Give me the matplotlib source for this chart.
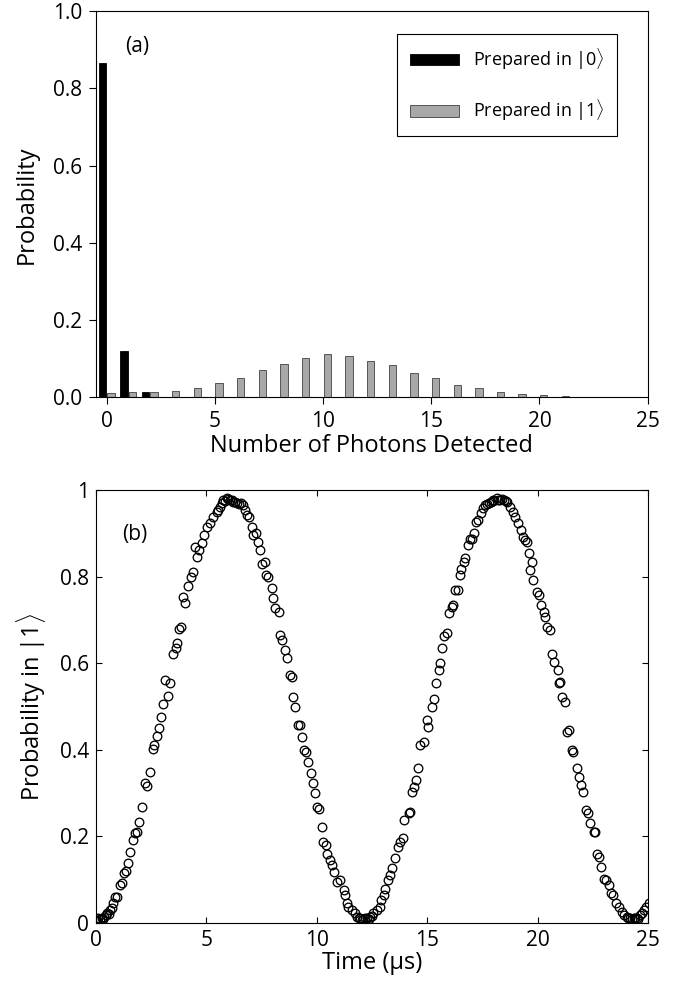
# %%

import matplotlib
matplotlib.use('Agg')
import matplotlib.pyplot as plt
import numpy as np

# %%

plt.rcParams['font.family'] = ['Open Sans', 'DejaVu Sans']
plt.rcParams['mathtext.fontset'] = 'custom'
plt.rcParams['mathtext.rm'] = 'Open Sans'
plt.rcParams['mathtext.it'] = 'Open Sans'

# (a) photon count histograms
photons = np.arange(0, 26)
prob_0 = [0.865, 0.120, 0.014, 0, 0, 0, 0, 0, 0, 0, 0, 0, 0,
          0, 0, 0, 0, 0, 0, 0, 0, 0, 0, 0, 0, 0]
prob_1 = [0.010, 0.013, 0.013, 0.016, 0.024, 0.036, 0.050, 0.072, 0.086,
          0.101, 0.111, 0.106, 0.094, 0.083, 0.062, 0.049, 0.031, 0.024,
          0.014, 0.009, 0.006, 0.003, 0, 0, 0, 0]

# (b) Rabi flopping
time_us = [0.00, 0.08, 0.10, 0.20, 0.29, 0.35, 0.38, 0.47, 0.53, 0.60, 0.65, 0.74, 0.80,
           0.89, 0.95, 1.10, 1.19, 1.28, 1.37, 1.48, 1.55, 1.67, 1.76, 1.89, 1.98,
           2.08, 2.23, 2.34, 2.46, 2.58, 2.65, 2.76, 2.87, 2.97, 3.06, 3.14, 3.26,
           3.36, 3.48, 3.62, 3.67, 3.77, 3.85, 3.94, 4.06, 4.16, 4.30, 4.39, 4.49,
           4.60, 4.69, 4.80, 4.90, 5.05, 5.17, 5.32, 5.48, 5.55, 5.63, 5.70, 5.78,
           5.85, 5.93, 6.00, 6.08, 6.15, 6.23, 6.30, 6.41, 6.50, 6.56, 6.65, 6.76,
           6.83, 6.95, 7.06, 7.13, 7.25, 7.32, 7.41, 7.51, 7.66, 7.71, 7.81, 7.96,
           8.04, 8.11, 8.27, 8.34, 8.42, 8.57, 8.64, 8.79, 8.87, 8.94, 9.02, 9.17,
           9.25, 9.32, 9.43, 9.52, 9.62, 9.74, 9.85, 9.92, 10.03, 10.12, 10.23,
           10.30, 10.42, 10.48, 10.60, 10.68, 10.80, 10.91, 11.06, 11.21, 11.28,
           11.36, 11.43, 11.58, 11.73, 11.81, 11.90, 11.96, 12.05, 12.11, 12.20,
           12.26, 12.35, 12.41, 12.50, 12.56, 12.71, 12.84, 12.90, 13.02, 13.09,
           13.24, 13.32, 13.39, 13.54, 13.69, 13.77, 13.89, 13.95, 14.15, 14.22,
           14.30, 14.41, 14.50, 14.56, 14.68, 14.83, 14.98, 15.05, 15.20, 15.28,
           15.40, 15.51, 15.58, 15.66, 15.76, 15.88, 15.96, 16.11, 16.15, 16.26,
           16.37, 16.46, 16.53, 16.64, 16.71, 16.82, 16.92, 17.01, 17.09, 17.21,
           17.31, 17.42, 17.54, 17.62, 17.70, 17.77, 17.87, 17.95, 17.99, 18.14,
           18.20, 18.30, 18.40, 18.45, 18.55, 18.60, 18.75, 18.87, 18.97, 19.12,
           19.23, 19.32, 19.43, 19.50, 19.58, 19.65, 19.73, 19.80, 19.95, 20.03,
           20.14, 20.26, 20.33, 20.41, 20.56, 20.63, 20.74, 20.89, 20.94, 21.01,
           21.09, 21.24, 21.34, 21.43, 21.54, 21.61, 21.76, 21.84, 21.94, 22.06,
           22.19, 22.29, 22.37, 22.52, 22.59, 22.67, 22.75, 22.85, 22.97, 23.09,
           23.20, 23.30, 23.42, 23.54, 23.65, 23.80, 23.88, 24.03, 24.10, 24.18,
           24.25, 24.33, 24.40, 24.48, 24.55, 24.63, 24.71, 24.78, 24.90, 25.01]
prob_in_1 = [0.005, 0.006, 0.010, 0.009, 0.012, 0.008, 0.014, 0.018, 0.023, 0.020, 0.029, 0.033, 0.045,
             0.059, 0.060, 0.087, 0.091, 0.114, 0.120, 0.137, 0.164, 0.191, 0.208, 0.210, 0.233,
             0.268, 0.322, 0.316, 0.349, 0.401, 0.411, 0.431, 0.451, 0.476, 0.505, 0.562, 0.524,
             0.555, 0.622, 0.634, 0.646, 0.679, 0.684, 0.753, 0.740, 0.778, 0.800, 0.811, 0.869,
             0.846, 0.861, 0.877, 0.896, 0.915, 0.923, 0.938, 0.950, 0.955, 0.961, 0.970, 0.977,
             0.975, 0.981, 0.980, 0.977, 0.978, 0.973, 0.972, 0.969, 0.968, 0.971, 0.965, 0.954,
             0.942, 0.938, 0.915, 0.896, 0.900, 0.881, 0.861, 0.830, 0.834, 0.804, 0.800, 0.773,
             0.750, 0.727, 0.719, 0.665, 0.653, 0.630, 0.611, 0.572, 0.569, 0.522, 0.499, 0.457,
             0.457, 0.430, 0.399, 0.395, 0.372, 0.345, 0.322, 0.299, 0.268, 0.264, 0.222,
             0.187, 0.180, 0.160, 0.145, 0.133, 0.118, 0.095, 0.099, 0.075, 0.064,
             0.045, 0.037, 0.029, 0.022, 0.014, 0.012, 0.010, 0.007, 0.008, 0.010,
             0.012, 0.008, 0.014, 0.015, 0.022, 0.029, 0.037, 0.052, 0.064, 0.079,
             0.099, 0.110, 0.126, 0.149, 0.176, 0.187, 0.195, 0.237, 0.253, 0.257,
             0.303, 0.314, 0.330, 0.357, 0.411, 0.418, 0.468, 0.453, 0.499, 0.518,
             0.553, 0.584, 0.601, 0.634, 0.663, 0.669, 0.715, 0.730, 0.734, 0.769,
             0.769, 0.804, 0.817, 0.834, 0.842, 0.873, 0.888, 0.888, 0.900, 0.927,
             0.931, 0.946, 0.958, 0.965, 0.968, 0.969, 0.973, 0.975, 0.977, 0.981,
             0.978, 0.978, 0.980, 0.977, 0.975, 0.973, 0.961, 0.950, 0.938, 0.923,
             0.908, 0.891, 0.884, 0.881, 0.854, 0.815, 0.834, 0.792, 0.765, 0.757,
             0.734, 0.719, 0.707, 0.684, 0.676, 0.622, 0.603, 0.584, 0.553, 0.557,
             0.522, 0.511, 0.441, 0.445, 0.399, 0.395, 0.357, 0.337, 0.318, 0.303,
             0.260, 0.253, 0.230, 0.210, 0.210, 0.160, 0.153, 0.129, 0.102, 0.099,
             0.087, 0.068, 0.064, 0.045, 0.037, 0.025, 0.018, 0.014, 0.010, 0.012,
             0.008, 0.011, 0.012, 0.010, 0.009, 0.018, 0.022, 0.029, 0.037, 0.046]

# %%

fig = plt.figure(figsize=(6.74, 9.85), dpi=100)

# --- (a) ---
ax1 = fig.add_axes([0.142, 0.5966, 0.819, 0.392])
bar_w = 0.34
ax1.bar(photons - 0.2, prob_0, width=bar_w, color='black', edgecolor='black',
        linewidth=0.6, label=r'Prepared in |0$\rangle$')
ax1.bar(photons + 0.2, prob_1, width=bar_w, color='#a8a8a8', edgecolor='#404040',
        linewidth=0.6, label=r'Prepared in |1$\rangle$')
ax1.set_xlim(-0.5, 25)
ax1.set_ylim(0, 1)
ax1.set_xticks([0, 5, 10, 15, 20, 25])
ax1.set_yticks([0, 0.2, 0.4, 0.6, 0.8, 1.0])
ax1.set_yticklabels(['0.0', '0.2', '0.4', '0.6', '0.8', '1.0'])
ax1.tick_params(direction='out', length=5, width=0.8, labelsize=15, pad=5,
                top=False, right=False)
ax1.set_xlabel('Number of Photons Detected', fontsize=17, labelpad=1)
ax1.set_ylabel('Probability', fontsize=17, labelpad=10)
ax1.text(0.85, 0.895, '(a)', fontsize=15)
for s in ax1.spines.values():
    s.set_linewidth(0.8)
leg = ax1.legend(loc='upper right', bbox_to_anchor=(0.945, 0.942), fontsize=13,
                 handlelength=2.7, handleheight=0.6, labelspacing=1.45,
                 borderpad=0.7, handletextpad=0.8, fancybox=False,
                 framealpha=1, edgecolor='black', borderaxespad=0)
leg.get_frame().set_linewidth(0.8)

# --- (b) ---
ax2 = fig.add_axes([0.142, 0.0632, 0.82, 0.4393])
ax2.plot(time_us, prob_in_1, 'o', markerfacecolor='none', markeredgecolor='black',
         markersize=6.2, markeredgewidth=0.95)
ax2.set_xlim(0, 25)
ax2.set_ylim(0, 1)
ax2.set_xticks([0, 5, 10, 15, 20, 25])
ax2.set_yticks([0, 0.2, 0.4, 0.6, 0.8, 1])
ax2.set_yticklabels(['0', '0.2', '0.4', '0.6', '0.8', '1'])
ax2.tick_params(direction='in', length=4, width=0.8, labelsize=15, pad=5,
                top=True, right=True)
ax2.set_xlabel('Time (μs)', fontsize=17, labelpad=0)
ax2.set_ylabel(r'Probability in $|1\rangle$', fontsize=17, labelpad=8)
ax2.text(1.2, 0.885, '(b)', fontsize=15)
for s in ax2.spines.values():
    s.set_linewidth(0.8)

plt.savefig('out.png', dpi=100)
